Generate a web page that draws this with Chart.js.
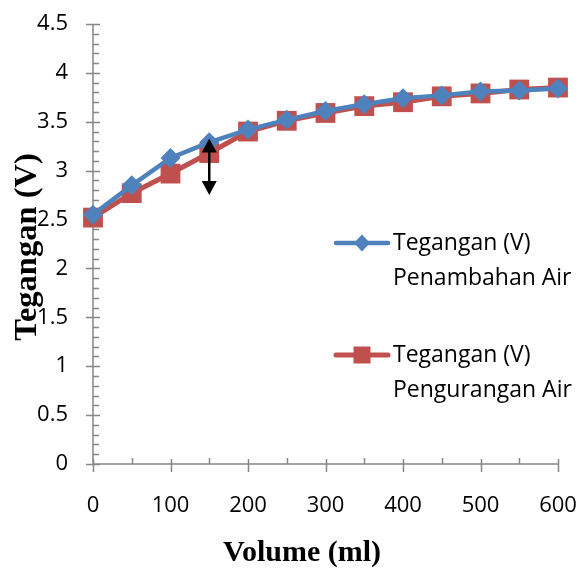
<!DOCTYPE html>
<html>
<head>
<meta charset="utf-8">
<script src="https://cdn.jsdelivr.net/npm/chart.js@4/dist/chart.umd.min.js"></script>
<style>
html,body{margin:0;padding:0;background:#fff;}
#c{display:block;}
</style>
</head>
<body>
<canvas id="c" width="582" height="572"></canvas>
<script>
// ---- data ----
const volume = [0, 50, 100, 150, 200, 250, 300, 350, 400, 450, 500, 550, 600];
const teganganPenambahan = [2.55, 2.85, 3.13, 3.29, 3.42, 3.52, 3.61, 3.68, 3.74, 3.77, 3.81, 3.82, 3.84];
const teganganPengurangan = [2.52, 2.77, 2.97, 3.18, 3.40, 3.51, 3.59, 3.66, 3.70, 3.76, 3.79, 3.83, 3.85];
const seriesNames = [["Tegangan (V)", "Penambahan Air"], ["Tegangan (V)", "Pengurangan Air"]];
const xTitle = "Volume (ml)";
const yTitle = "Tegangan (V)";
const arrowX = [150];
const arrowRange = [2.75, 3.33];

const BLUE = '#4F81BD';
const RED = '#C0504D';
const AXIS = '#868686';
const TICK_FONT = {family: "'Open Sans', sans-serif", size: 22};

const axesPlugin = {
  id: 'excelAxes',
  beforeDatasetsDraw(chart) {
    const ctx = chart.ctx, xs = chart.scales.x, ys = chart.scales.y;
    const x0 = xs.getPixelForValue(0), y0 = ys.getPixelForValue(0);
    ctx.save();
    ctx.strokeStyle = AXIS;
    ctx.lineWidth = 1.5;
    ctx.beginPath();
    ctx.moveTo(x0, ys.getPixelForValue(4.5));
    ctx.lineTo(x0, y0);
    ctx.lineTo(xs.getPixelForValue(600), y0);
    // y ticks
    for (let v = 0; v <= 45; v++) {
      const py = Math.round(ys.getPixelForValue(v / 10)) + 0.5;
      if (v % 5 === 0) { ctx.moveTo(x0 - 7, py); ctx.lineTo(x0 + 7, py); }
      else { ctx.moveTo(x0, py); ctx.lineTo(x0 + 6, py); }
    }
    // x ticks
    for (let v = 0; v <= 600; v += 50) {
      const px = Math.round(xs.getPixelForValue(v)) + 0.5;
      if (v % 100 === 0) { ctx.moveTo(px, y0 - 5); ctx.lineTo(px, y0 + 8); }
      else { ctx.moveTo(px, y0 - 6); ctx.lineTo(px, y0); }
    }
    ctx.stroke();
    ctx.restore();
  },
  afterDatasetsDraw(chart) {
    const ctx = chart.ctx, xs = chart.scales.x, ys = chart.scales.y;
    ctx.save();
    ctx.strokeStyle = '#000';
    ctx.fillStyle = '#000';
    ctx.lineWidth = 2.5;
    arrowX.forEach(ax => {
      const px = xs.getPixelForValue(ax);
      const top = ys.getPixelForValue(arrowRange[1]);
      const bot = ys.getPixelForValue(arrowRange[0]);
      const hh = 14, hw = 7.5;
      ctx.beginPath();
      ctx.moveTo(px, top + hh - 1);
      ctx.lineTo(px, bot - hh + 1);
      ctx.stroke();
      ctx.beginPath();
      ctx.moveTo(px, top); ctx.lineTo(px - hw, top + hh); ctx.lineTo(px + hw, top + hh); ctx.closePath();
      ctx.fill();
      ctx.beginPath();
      ctx.moveTo(px, bot); ctx.lineTo(px - hw, bot - hh); ctx.lineTo(px + hw, bot - hh); ctx.closePath();
      ctx.fill();
    });
    ctx.restore();
  },
  afterDraw(chart) {
    const ctx = chart.ctx;
    ctx.save();
    // axis titles
    ctx.fillStyle = '#000';
    ctx.font = "bold 30px 'Liberation Serif', serif";
    ctx.textAlign = 'center';
    ctx.textBaseline = 'middle';
    ctx.fillText(xTitle, 302, 553);
    ctx.save();
    ctx.translate(28, 247);
    ctx.rotate(-Math.PI / 2);
    ctx.font = "bold 32.5px 'Liberation Serif', serif";
    ctx.fillText(yTitle, 0, 0);
    ctx.restore();
    // legend
    const items = [
      {y: 243, color: BLUE, style: 'diamond', lines: seriesNames[0]},
      {y: 355, color: RED, style: 'square', lines: seriesNames[1]}
    ];
    items.forEach(it => {
      ctx.strokeStyle = it.color;
      ctx.fillStyle = it.color;
      ctx.lineWidth = it.style === 'square' ? 5 : 4.5;
      ctx.lineCap = 'round';
      ctx.beginPath();
      ctx.moveTo(336, it.y); ctx.lineTo(388, it.y);
      ctx.stroke();
      const mx = 362;
      ctx.beginPath();
      if (it.style === 'diamond') {
        ctx.moveTo(mx, it.y - 8.5); ctx.lineTo(mx + 8, it.y); ctx.lineTo(mx, it.y + 8.5); ctx.lineTo(mx - 8, it.y); ctx.closePath();
      } else {
        ctx.rect(mx - 8.5, it.y - 8.5, 17, 17);
      }
      ctx.fill();
      ctx.fillStyle = '#000';
      ctx.font = "23px 'Open Sans', sans-serif";
      ctx.textAlign = 'left';
      ctx.textBaseline = 'middle';
      ctx.fillText(it.lines[0], 393, it.y);
      ctx.fillText(it.lines[1], 393, it.y + 35);
    });
    ctx.restore();
  }
};

new Chart(document.getElementById('c'), {
  type: 'line',
  data: {
    datasets: [
      {
        label: seriesNames[0].join(' '),
        data: volume.map((v, i) => ({x: v, y: teganganPenambahan[i]})),
        borderColor: BLUE, backgroundColor: BLUE,
        borderWidth: 4.5, pointStyle: 'rectRot', pointRadius: 10, pointHoverRadius: 10,
        pointBorderWidth: 0, tension: 0, clip: false
      },
      {
        label: seriesNames[1].join(' '),
        data: volume.map((v, i) => ({x: v, y: teganganPengurangan[i]})),
        borderColor: RED, backgroundColor: RED,
        borderWidth: 5, pointStyle: 'rect', pointRadius: 14, pointHoverRadius: 14,
        pointBorderWidth: 0, tension: 0, clip: false
      }
    ]
  },
  options: {
    responsive: false,
    animation: false,
    events: [],
    layout: {padding: {top: 24, right: 24, left: 0, bottom: 0}},
    plugins: {legend: {display: false}, tooltip: {enabled: false}},
    scales: {
      x: {
        type: 'linear', min: 0, max: 600,
        grid: {display: false, drawTicks: false}, border: {display: false},
        ticks: {stepSize: 100, color: '#000', font: TICK_FONT, padding: 29, maxRotation: 0},
        afterFit: s => { s.height = 108; s.paddingLeft = 0; s.paddingRight = 0; }
      },
      y: {
        type: 'linear', min: 0, max: 4.5,
        grid: {display: false, drawTicks: false}, border: {display: false},
        ticks: {stepSize: 0.5, color: '#000', font: TICK_FONT, padding: 25, callback: v => String(v)},
        afterFit: s => { s.width = 93; s.paddingTop = 0; s.paddingBottom = 0; }
      }
    }
  },
  plugins: [axesPlugin]
});
</script>
</body>
</html>
